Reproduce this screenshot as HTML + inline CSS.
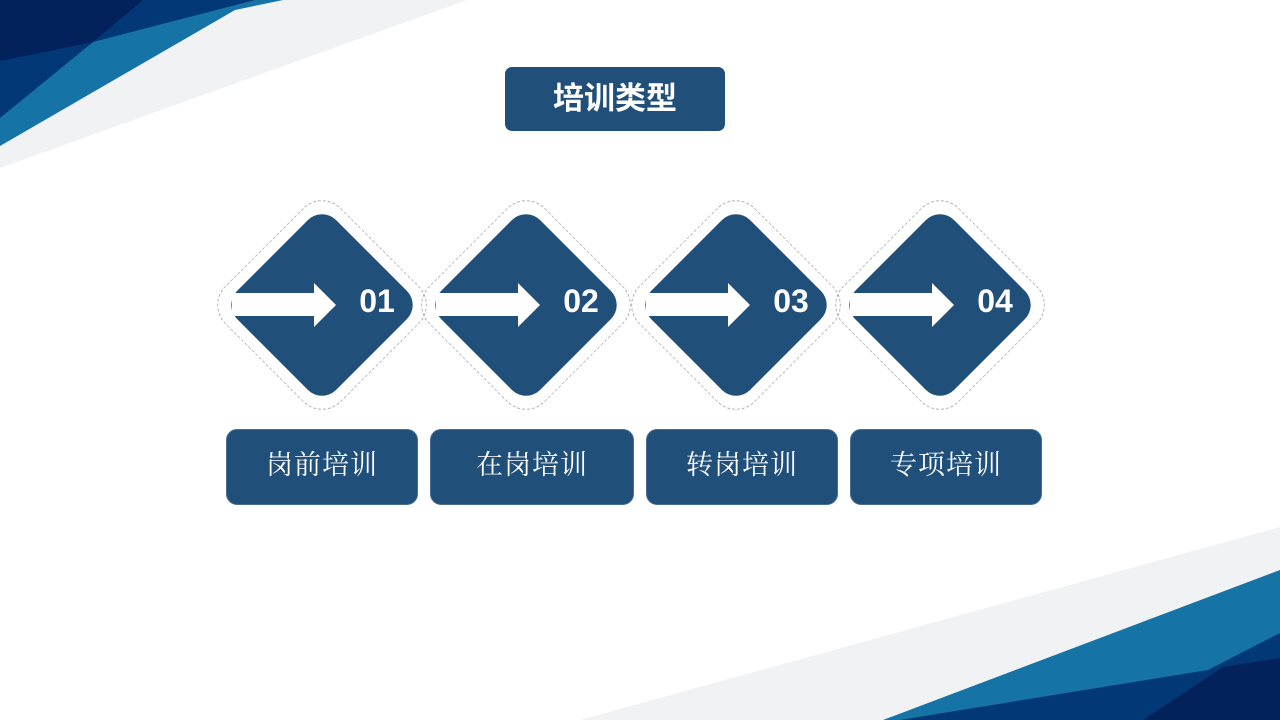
<!DOCTYPE html>
<html><head><meta charset="utf-8"><style>
body{margin:0;width:1280px;height:720px;overflow:hidden;background:#fff;position:relative;font-family:"Liberation Sans","Noto Sans CJK SC",sans-serif}
svg.bg{position:absolute;left:0;top:0}
.title{position:absolute;left:505px;top:67px;width:220px;height:64px;background:#204f79;border-radius:7px;color:#fff;font-weight:bold;font-size:31px;line-height:64px;text-align:center;letter-spacing:0px}
.d{position:absolute;width:140px;height:140px;background:#204f79;border-radius:20px;transform:rotate(45deg)}
.o{position:absolute;width:164px;height:164px;border:1px dashed #b0b0b0;border-radius:27px;transform:rotate(45deg);box-sizing:border-box}
.n{position:absolute;color:#fff;font-weight:bold;font-size:32px;line-height:40px;width:60px;text-align:center}
.lb{position:absolute;top:429px;height:76px;background:#204f79;border:1px solid #4a6f95;box-sizing:border-box;border-radius:11px;color:#fff;font-family:"Liberation Serif","Noto Serif CJK SC",serif;font-size:27px;line-height:70px;text-align:center;letter-spacing:1px}
</style></head><body>
<svg class="bg" width="1280" height="720">
<polygon points="0,0 467,0 0,168" fill="#f1f2f4"/>
<polygon points="0,0 283,0 235,10 0,146" fill="#1573a6"/>
<polygon points="0,0 255,0 93,42 0,118" fill="#023876"/>
<polygon points="0,0 143,0 93,42 0,61" fill="#03215a"/>
<polygon points="580,720 1280,527 1280,720" fill="#f1f2f4"/>
<polygon points="883,720 1280,570 1280,720" fill="#1573a6"/>
<polygon points="900,720 1208,670 1280,633 1280,720" fill="#023876"/>
<polygon points="1143,720 1223,667 1280,658 1280,720" fill="#03215a"/>
</svg>
<div class="title">培训类型</div>

<div class="o" style="left:240px;top:223px"></div>
<div class="d" style="left:252px;top:235px"></div>
<div class="o" style="left:444px;top:223px"></div>
<div class="d" style="left:456px;top:235px"></div>
<div class="o" style="left:654px;top:223px"></div>
<div class="d" style="left:666px;top:235px"></div>
<div class="o" style="left:858px;top:223px"></div>
<div class="d" style="left:870px;top:235px"></div>

<svg class="bg" width="1280" height="720">
<g fill="#fff">
<polygon points="232,293 314,293 314,283 336,305 314,327 314,316 232,316"/>
<polygon points="436,293 518,293 518,283 540,305 518,327 518,316 436,316"/>
<polygon points="646,293 728,293 728,283 750,305 728,327 728,316 646,316"/>
<polygon points="850,293 932,293 932,283 954,305 932,327 932,316 850,316"/>
</g>
</svg>
<div class="n" style="left:347px;top:281px">01</div>
<div class="n" style="left:551px;top:281px">02</div>
<div class="n" style="left:761px;top:281px">03</div>
<div class="n" style="left:965px;top:281px">04</div>

<div class="lb" style="left:226px;width:192px">岗前培训</div>
<div class="lb" style="left:430px;width:204px">在岗培训</div>
<div class="lb" style="left:646px;width:192px">转岗培训</div>
<div class="lb" style="left:850px;width:192px">专项培训</div>
</body></html>
